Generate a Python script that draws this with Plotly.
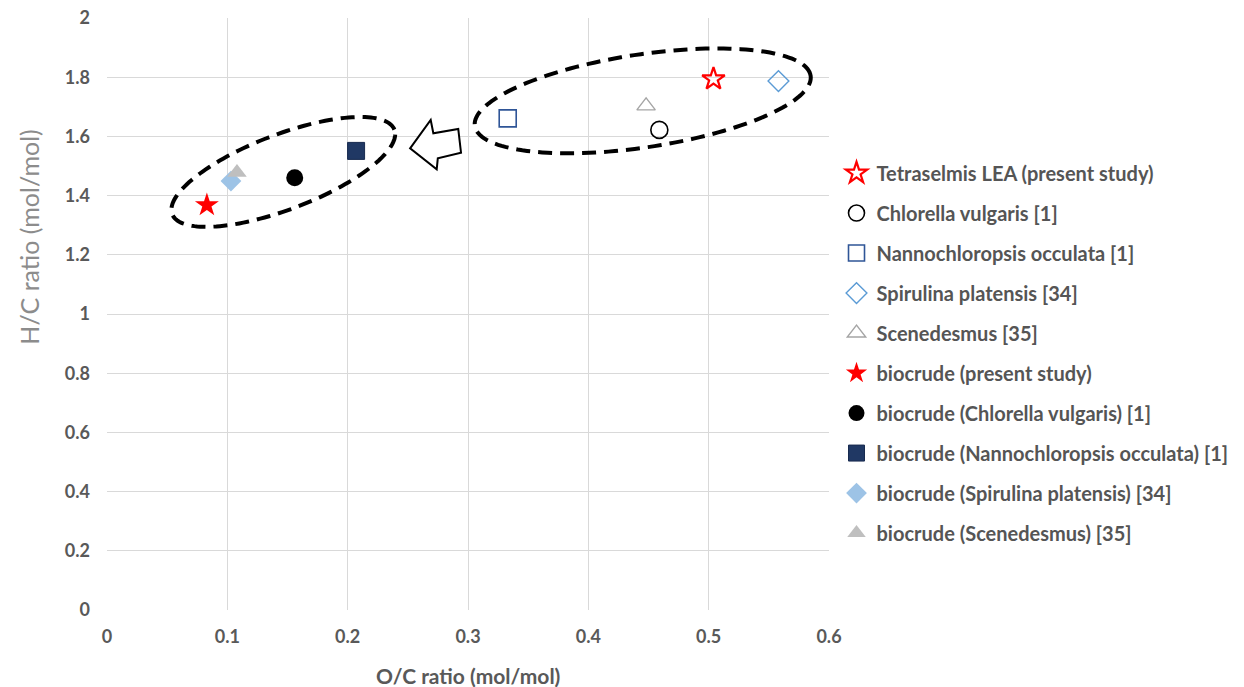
import numpy as np
import plotly.graph_objects as go

# ---------------- data ----------------
names = [
    "Tetraselmis LEA (present study)",
    "Chlorella vulgaris [1]",
    "Nannochloropsis occulata [1]",
    "Spirulina platensis [34]",
    "Scenedesmus [35]",
    "biocrude (present study)",
    "biocrude (Chlorella vulgaris) [1]",
    "biocrude (Nannochloropsis occulata) [1]",
    "biocrude (Spirulina platensis) [34]",
    "biocrude (Scenedesmus) [35]",
]
oc_ratio = [0.504, 0.459, 0.333, 0.558, 0.448, 0.083, 0.156, 0.207, 0.103, 0.108]
hc_ratio = [1.794, 1.622, 1.661, 1.787, 1.703, 1.368, 1.460, 1.551, 1.449, 1.478]

x_ticks = [0, 0.1, 0.2, 0.3, 0.4, 0.5, 0.6]
y_ticks = [0, 0.2, 0.4, 0.6, 0.8, 1, 1.2, 1.4, 1.6, 1.8, 2]

# ---------------- styles ----------------
symbols = ["star-open", "circle-open", "square-open", "diamond-open", "triangle-up-open",
           "star", "circle", "square", "diamond", "triangle-up"]
sizes = [17, 17, 17, 16, 16, 18, 17, 17, 16, 17]
colors = ["#FF0000", "#000000", "#2F5597", "#5B9BD5", "#A5A5A5",
          "#FF0000", "#000000", "#203864", "#9DC3E6", "#BFBFBF"]
line_colors = ["#FF0000", "#000000", "#2F5597", "#5B9BD5", "#A5A5A5",
               "#FF0000", "#000000", "#172A4F", "#9DC3E6", "#BFBFBF"]
line_widths = [2.2, 1.6, 1.6, 1.4, 1.4, 0, 0, 1, 0, 0]

FONT = "Lato, 'Open Sans', sans-serif"

fig = go.Figure()
for i, nm in enumerate(names):
    fig.add_trace(go.Scatter(
        x=[oc_ratio[i]], y=[hc_ratio[i]], mode="markers", name=nm,
        legendgroup=f"g{i}",
        marker=dict(symbol=symbols[i], size=sizes[i], color=colors[i],
                    line=dict(color=line_colors[i], width=line_widths[i])),
    ))

# ---------------- decorations: dashed ellipses and block arrow ----------------
PX_X = 723 / 0.6   # px per x unit
PX_Y = 592 / 2.0   # px per y unit


def ellipse_path(cx, cy, a_px, b_px, ang_deg, n=160):
    t = np.linspace(0, 2 * np.pi, n)
    th = np.deg2rad(ang_deg)
    dx = a_px * np.cos(t) * np.cos(th) - b_px * np.sin(t) * np.sin(th)
    dy = a_px * np.cos(t) * np.sin(th) + b_px * np.sin(t) * np.cos(th)
    xs = cx + dx / PX_X
    ys = cy + dy / PX_Y
    pts = " L ".join(f"{x:.5f},{y:.5f}" for x, y in zip(xs, ys))
    return "M " + pts + " Z"


ellipses = [
    (0.1465, 1.480, 119, 37.5, 20.8),
    (0.4452, 1.720, 170, 46.5, 8.5),
]
for cx, cy, a, b, ang in ellipses:
    fig.add_shape(type="path", xref="x", yref="y", path=ellipse_path(cx, cy, a, b, ang),
                  line=dict(color="#000000", width=4, dash="14px,8px"), layer="above")

arrow_x = [0.2519, 0.2690, 0.2712, 0.2919, 0.2942, 0.2749, 0.2740]
arrow_y = [1.5598, 1.6554, 1.6105, 1.6250, 1.5449, 1.5260, 1.4889]
arrow_path = "M " + " L ".join(f"{x},{y}" for x, y in zip(arrow_x, arrow_y)) + " Z"
fig.add_shape(type="path", xref="x", yref="y", path=arrow_path,
              line=dict(color="#000000", width=2), fillcolor="#FFFFFF", layer="above")

# ---------------- layout ----------------
fig.update_layout(
    width=1244, height=687,
    margin=dict(l=106.5, r=414.5, t=18, b=77, autoexpand=False),
    paper_bgcolor="#FFFFFF", plot_bgcolor="#FFFFFF",
    font=dict(family=FONT, color="#595959"),
    showlegend=True,
    legend=dict(
        x=1.0104, y=0.771, xanchor="left", yanchor="top",
        font=dict(family=FONT, size=20, color="#555555", weight="bold"),
        traceorder="grouped", tracegroupgap=11,
        bgcolor="rgba(0,0,0,0)", itemwidth=30,
    ),
    xaxis=dict(
        range=[0, 0.6], tickvals=x_ticks, ticktext=[f"{v:g}" for v in x_ticks],
        showgrid=True, gridcolor="#D9D9D9", gridwidth=1, zeroline=False,
        showline=False, ticks="", ticklen=0, ticklabelstandoff=14,
        ticklabeloverflow="allow", automargin=False,
        tickfont=dict(family=FONT, size=18, color="#595959", weight="bold"),
    ),
    yaxis=dict(
        range=[0, 2], tickvals=y_ticks, ticktext=[f"{v:g}" for v in y_ticks],
        showgrid=True, gridcolor="#D9D9D9", gridwidth=1, zeroline=False,
        showline=False, ticks="", ticklen=0, ticklabelstandoff=16,
        ticklabeloverflow="allow", automargin=False,
        tickfont=dict(family=FONT, size=18, color="#595959", weight="bold"),
    ),
    annotations=[
        dict(text="H/C ratio (mol/mol)", xref="paper", yref="paper",
             x=-0.1086, y=0.630, xanchor="center", yanchor="middle", textangle=-90,
             showarrow=False, font=dict(family=FONT, size=25, color="#8C8C8C")),
        dict(text="O/C ratio (mol/mol)", xref="paper", yref="paper",
             x=0.5, y=-0.1098, xanchor="center", yanchor="middle",
             showarrow=False, font=dict(family=FONT, size=21, color="#595959", weight="bold")),
    ],
)

fig.write_html("out.html", config={"displayModeBar": False},
               post_script="document.body.style.margin='0px';")
